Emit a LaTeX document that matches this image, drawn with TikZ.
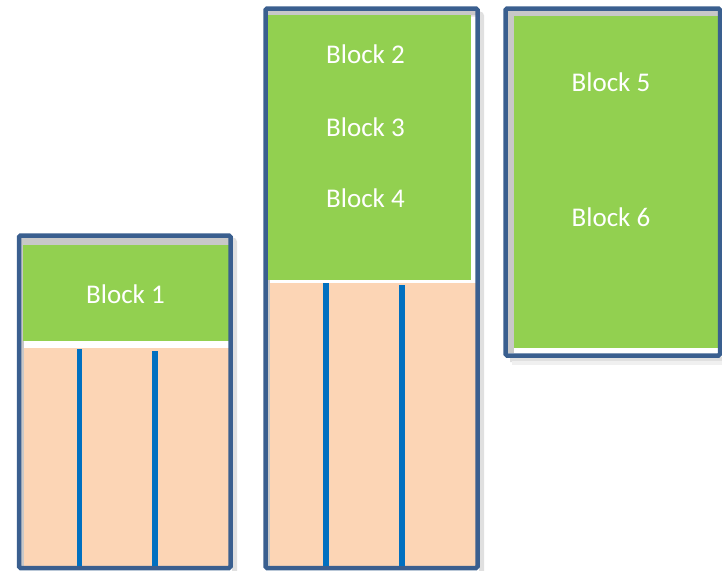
\documentclass[tikz,border=0pt]{standalone}
\usepackage{fontspec}
\setmainfont{Carlito}
\definecolor{frameblue}{HTML}{3A5F8F}
\definecolor{blockgreen}{HTML}{92D050}
\definecolor{peach}{HTML}{FCD5B5}
\definecolor{lineblue}{HTML}{0070C0}
\definecolor{inshadow}{HTML}{C8C8C8}
\begin{document}
\begin{tikzpicture}[x=1pt,y=-1pt,
  frame/.style={draw=frameblue,line width=4.5pt,rounded corners=1.5pt},
  outshadow/.style={draw=black!12,line width=5pt,rounded corners=2pt},
  green/.style={fill=blockgreen},
  stackpart/.style={fill=peach},
  inband/.style={fill=inshadow},
  divider/.style={draw=lineblue,line width=5.5pt},
  label/.style={text=white,font=\fontsize{27}{32}\selectfont,anchor=base,inner sep=0pt}]
\useasboundingbox (0,0) rectangle (722,570);
% outer soft shadows
\draw[outshadow] (23.5,240) -- (234.5,240) -- (234.5,572);
\draw[outshadow] (269.5,14) -- (481.5,14) -- (481.5,572);
\draw[outshadow] (724,14) -- (724,359.5) -- (510,359.5);
\draw[draw=black!6,line width=4pt] (512,363) -- (724,363);
% box 1
\fill[inband] (21,237) rectangle (228.5,245);
\fill[inband] (21,237) rectangle (23.5,566);
\fill[green] (23,245) rectangle (228.5,341);
\fill[stackpart] (23.5,348) rectangle (228.5,566);
% box 2
\fill[inband] (267.5,10.5) rectangle (475.5,15);
\fill[inband] (267.5,10.5) rectangle (270,566);
\fill[green] (267.5,15) rectangle (471,280);
\fill[stackpart] (270,283) rectangle (475.5,566);
% box 3
\fill[inband] (507.5,10.5) rectangle (718,16);
\fill[inband] (507.5,10.5) rectangle (514,353);
\fill[green] (514,16) rectangle (718,348);
% frames
\draw[frame] (19,235.5) rectangle (230.5,568);
\draw[frame] (265.5,8.5) rectangle (477.5,568);
\draw[frame] (505.5,8.5) rectangle (720,355.5);
% dividers
\coordinate (d1a) at (79.5,349); \coordinate (d1b) at (79.5,566);
\coordinate (d2a) at (155,351); \coordinate (d2b) at (155,566);
\coordinate (d3a) at (326,283); \coordinate (d3b) at (326,566);
\coordinate (d4a) at (402,285); \coordinate (d4b) at (402,566);
\draw[divider] (d1a) -- (d1b);
\draw[divider] (d2a) -- (d2b);
\draw[divider] (d3a) -- (d3b);
\draw[divider] (d4a) -- (d4b);
% labels
\node[label] (b1) at (125.5,303) {Block 1};
\node[label] (b2) at (365.5,63) {Block 2};
\node[label] (b3) at (365.5,136) {Block 3};
\node[label] (b4) at (365.5,207) {Block 4};
\node[label] (b5) at (611,91) {Block 5};
\node[label] (b6) at (611,226) {Block 6};
\end{tikzpicture}
\end{document}
